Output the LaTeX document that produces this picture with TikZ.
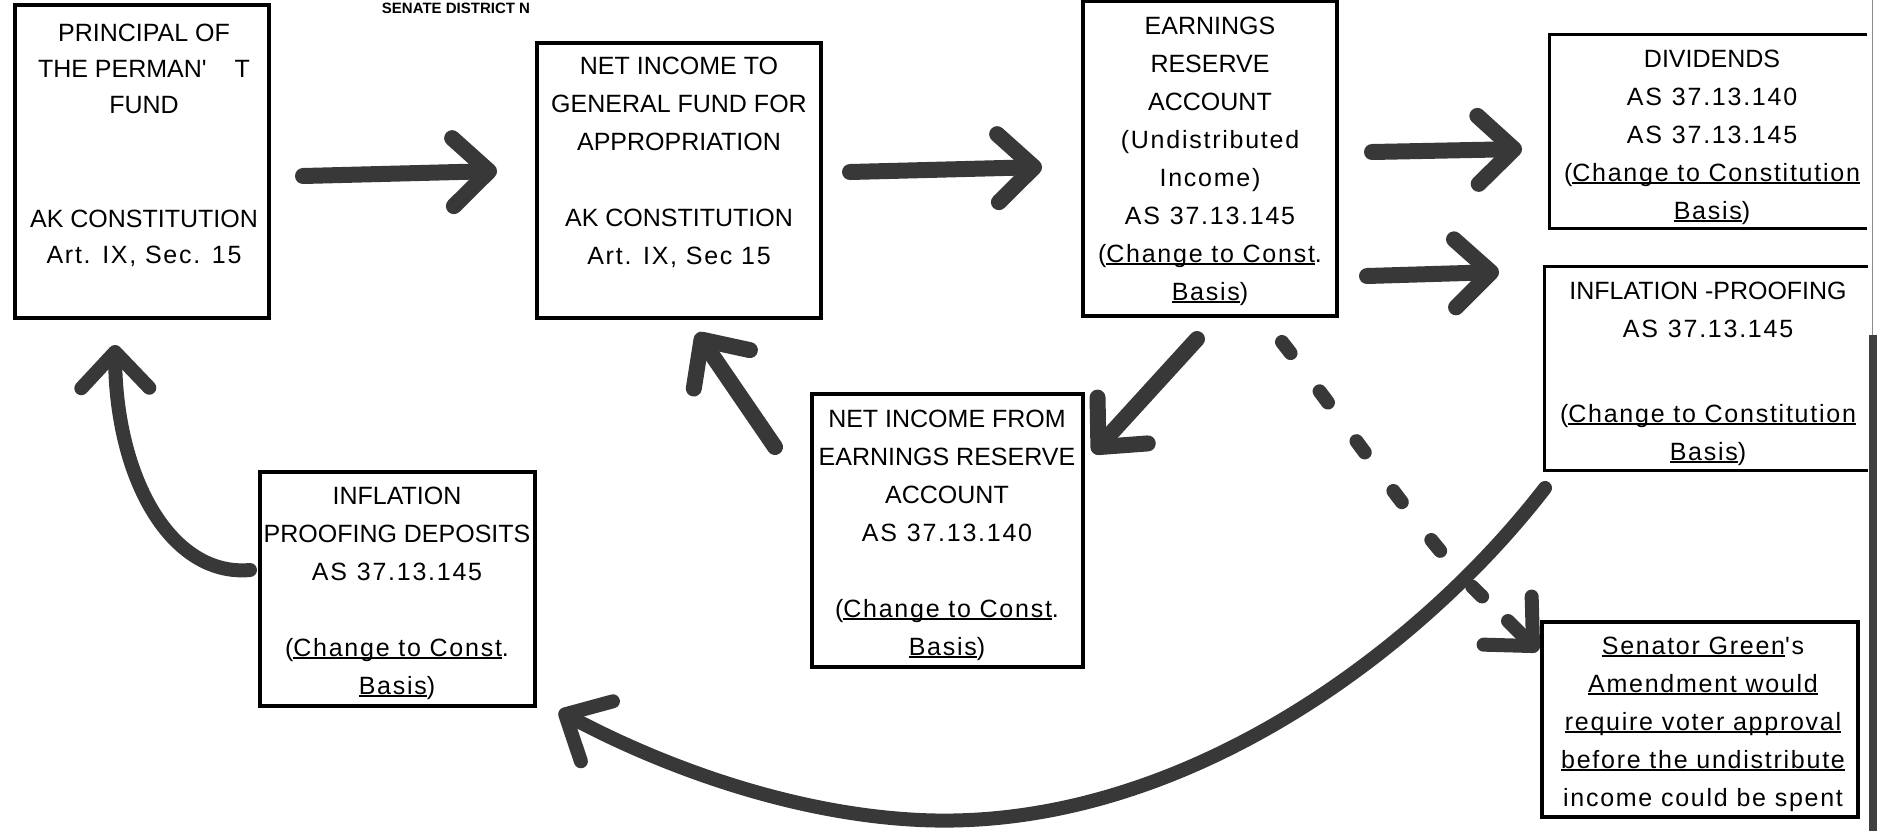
\documentclass[tikz,border=0pt]{standalone}
\usepackage{fontspec}
\setmainfont{Liberation Sans}
\newfontfamily\widefont[LetterSpace=7]{Liberation Sans}
\usetikzlibrary{arrows.meta,fit}
\definecolor{ink}{HTML}{383838}
\newcommand\myul[1]{\setbox0=\hbox{#1}\rlap{\rule[-1.5pt]{\wd0}{1pt}}\box0}
\newcommand\W[1]{{\widefont #1}}
\newcommand\fs{\rule{0pt}{10pt}}
\begin{document}
\begin{tikzpicture}[x=0.5pt,y=-0.5pt,
  box/.style={draw=black, line width=1.6pt, inner sep=0pt},
  openbox/.style={inner sep=0pt},
  txt/.style={anchor=north, align=center, inner sep=0pt, font=\fontsize{12.5}{19}\selectfont},
  arr/.style={draw=ink, line width=8pt, line cap=round, line join=round, -{Straight Barb[length=18pt,width=34pt,round]}},
  carr/.style={arr, line width=7pt},
  dashline/.style={draw=ink, line width=7pt, line cap=round, dash pattern=on 7pt off 24pt}
]
\useasboundingbox (0,0) rectangle (1877,831);
\fill[white] (0,0) rectangle (1877,831);
\clip (0,0) rectangle (1877,831);

% scan edge
\fill[black!75] (1869,335) rectangle (1877,831);
\draw[black!45, line width=0.5pt] (1872,0) -- (1872,335);

% header fragment
\node[font=\bfseries\fontsize{7.5}{7.5}\selectfont, anchor=base, inner sep=0pt] (hdr) at (456,13) {SENATE DISTRICT N};

% boxes
\node[box, fit={(15,5) (269,318)}] (b1) {};
\node[box, fit={(537,43) (821,318)}] (b2) {};
\node[box, fit={(1083,1) (1337,316)}] (b3) {};
\node[openbox, fit={(1550,35) (1867,228)}] (b4) {};
\draw[line width=1.6pt] (b4.north east) -- (b4.north west) -- (b4.south west) -- (b4.south east);
\node[openbox, fit={(1545,267) (1868,470)}] (b5) {};
\draw[line width=1.6pt] (b5.north east) -- (b5.north west) -- (b5.south west) -- (b5.south east);
\node[box, fit={(812,394) (1083,667)}] (b6) {};
\node[box, fit={(260,472) (535,706)}] (b7) {};
\node[box, fit={(1542,622) (1858,817)}] (b8) {};

% texts
\node[txt, font=\fontsize{12.5}{18}\selectfont] (t1) at (144,21)
  {\fs PRINCIPAL OF\\THE PERMAN\textquotesingle\hspace{14pt}T\\FUND\\[39pt]AK CONSTITUTION\\\W{Art. IX, Sec. 15}};
\node[txt] (t2) at (679,54)
  {\fs NET INCOME TO\\GENERAL FUND FOR\\APPROPRIATION\\[19pt]AK CONSTITUTION\\\W{Art. IX, Sec 15}};
\node[txt] (t3) at (1210,14)
  {\fs EARNINGS\\RESERVE\\ACCOUNT\\\W{(Undistributed}\\\W{Income)}\\\W{AS\hspace{5pt}37.13.145}\\\W{(\myul{Change to Const}.}\\\W{\myul{Basis})}};
\node[txt] (t4) at (1712,47)
  {\fs DIVIDENDS\\\W{AS\hspace{5pt}37.13.140}\\\W{AS\hspace{5pt}37.13.145}\\\W{(\myul{Change to Constitution}}\\\W{\myul{Basis})}};
\node[txt] (t5) at (1708,279)
  {\fs INFLATION -PROOFING\\\W{AS\hspace{5pt}37.13.145}\\[23.5pt]\W{(\myul{Change to Constitution}}\\\W{\myul{Basis})}};
\node[txt] (t6) at (947,407)
  {\fs NET INCOME FROM\\EARNINGS RESERVE\\ACCOUNT\\\W{AS\hspace{5pt}37.13.140}\\[19pt]\W{(\myul{Change to Const}.}\\\W{\myul{Basis})}};
\node[txt] (t7) at (397,484)
  {\fs INFLATION\\PROOFING DEPOSITS\\\W{AS\hspace{5pt}37.13.145}\\[19pt]\W{(\myul{Change to Const}.}\\\W{\myul{Basis})}};
\node[txt] (t8) at (1703,634)
  {\fs\W{\myul{Senator Green}'s}\\\W{\myul{Amendment would}}\\\W{\myul{require voter approval}}\\\W{\myul{before the undistribute}}\\\W{income could be spent}};

% arrow end points
\coordinate (a1s) at (303,176);  \coordinate (a1e) at (497,171);
\coordinate (a2s) at (850,172);  \coordinate (a2e) at (1042,167);
\coordinate (a3s) at (1372,152); \coordinate (a3e) at (1522,149);
\coordinate (a4s) at (1367,276); \coordinate (a4e) at (1499,272);
\coordinate (a5s) at (775,447);  \coordinate (a5e) at (697,333);
\coordinate (a6s) at (1197,339); \coordinate (a6e) at (1093,453);
\coordinate (a7s) at (250,570);  \coordinate (a7e) at (115,345);
\coordinate (a8s) at (1282,342); \coordinate (a8m) at (1500,612);
\coordinate (a8h) at (1508,621); \coordinate (a8e) at (1538,651);
\coordinate (a9s) at (1545,488); \coordinate (a9m) at (920,820); \coordinate (a9e) at (559,711);

\draw[arr] (a1s) -- (a1e);
\draw[arr] (a2s) -- (a2e);
\draw[arr] (a3s) -- (a3e);
\draw[arr] (a4s) -- (a4e);
\draw[arr] (a5s) -- (a5e);
\draw[arr] (a6s) -- (a6e);
\draw[carr] (a7s) .. controls (172,577) and (116,480) .. (a7e);
\draw[dashline] (a8s) .. controls (1370,455) and (1440,565) .. (a8m);
\draw[carr] (a8h) -- (a8e);
\draw[carr] (a9s) .. controls (1420,650) and (1180,832) .. (a9m) .. controls (790,814) and (660,765) .. (a9e);
\end{tikzpicture}
\end{document}
